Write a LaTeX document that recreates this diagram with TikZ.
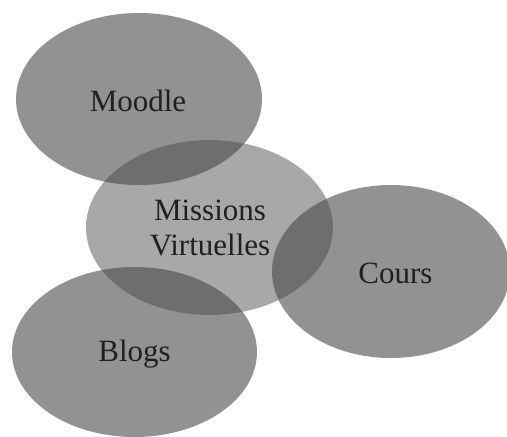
\documentclass[tikz,border=0pt]{standalone}
\usepackage{fontspec}
\setmainfont{Liberation Serif}
\usepackage{tikz}
\usetikzlibrary{positioning}

\definecolor{outergray}{RGB}{146,146,146}
\definecolor{innergray}{RGB}{168,168,168}
\definecolor{overlapgray}{RGB}{110,110,110}
\definecolor{labeltext}{RGB}{35,31,32}

\tikzset{
  label text/.style={inner sep=0pt, text=labeltext, align=center,
    font=\fontsize{31}{35}\selectfont},
}

\begin{document}
\begin{tikzpicture}[x=1pt,y=-1pt]
    \useasboundingbox (0,0) rectangle (507,437);
    %
    \def\moodle{(139,99) ellipse [x radius=123, y radius=86]}
    \def\missions{(209.5,227.5) ellipse [x radius=123.5, y radius=87.5]}
    \def\cours{(391,271.5) ellipse [x radius=119, y radius=86.5]}
    \def\blogs{(134.5,352) ellipse [x radius=122.5, y radius=85]}
    %
    \fill[outergray] \moodle;
    \fill[outergray] \cours;
    \fill[outergray] \blogs;
    \fill[innergray] \missions;
    %
    \begin{scope}
      \clip \missions;
      \fill[overlapgray] \moodle;
      \fill[overlapgray] \cours;
      \fill[overlapgray] \blogs;
    \end{scope}
    %
    \node[label text, anchor=base] (moodle) at (138,111) {Moodle};
    \node[label text] (missions) at (210,228) {Missions\\Virtuelles};
    \node[label text, anchor=base] (cours) at (395.5,283) {Cours};
    \node[label text, anchor=base] (blogs) at (134.5,361) {Blogs};
\end{tikzpicture}
\end{document}
